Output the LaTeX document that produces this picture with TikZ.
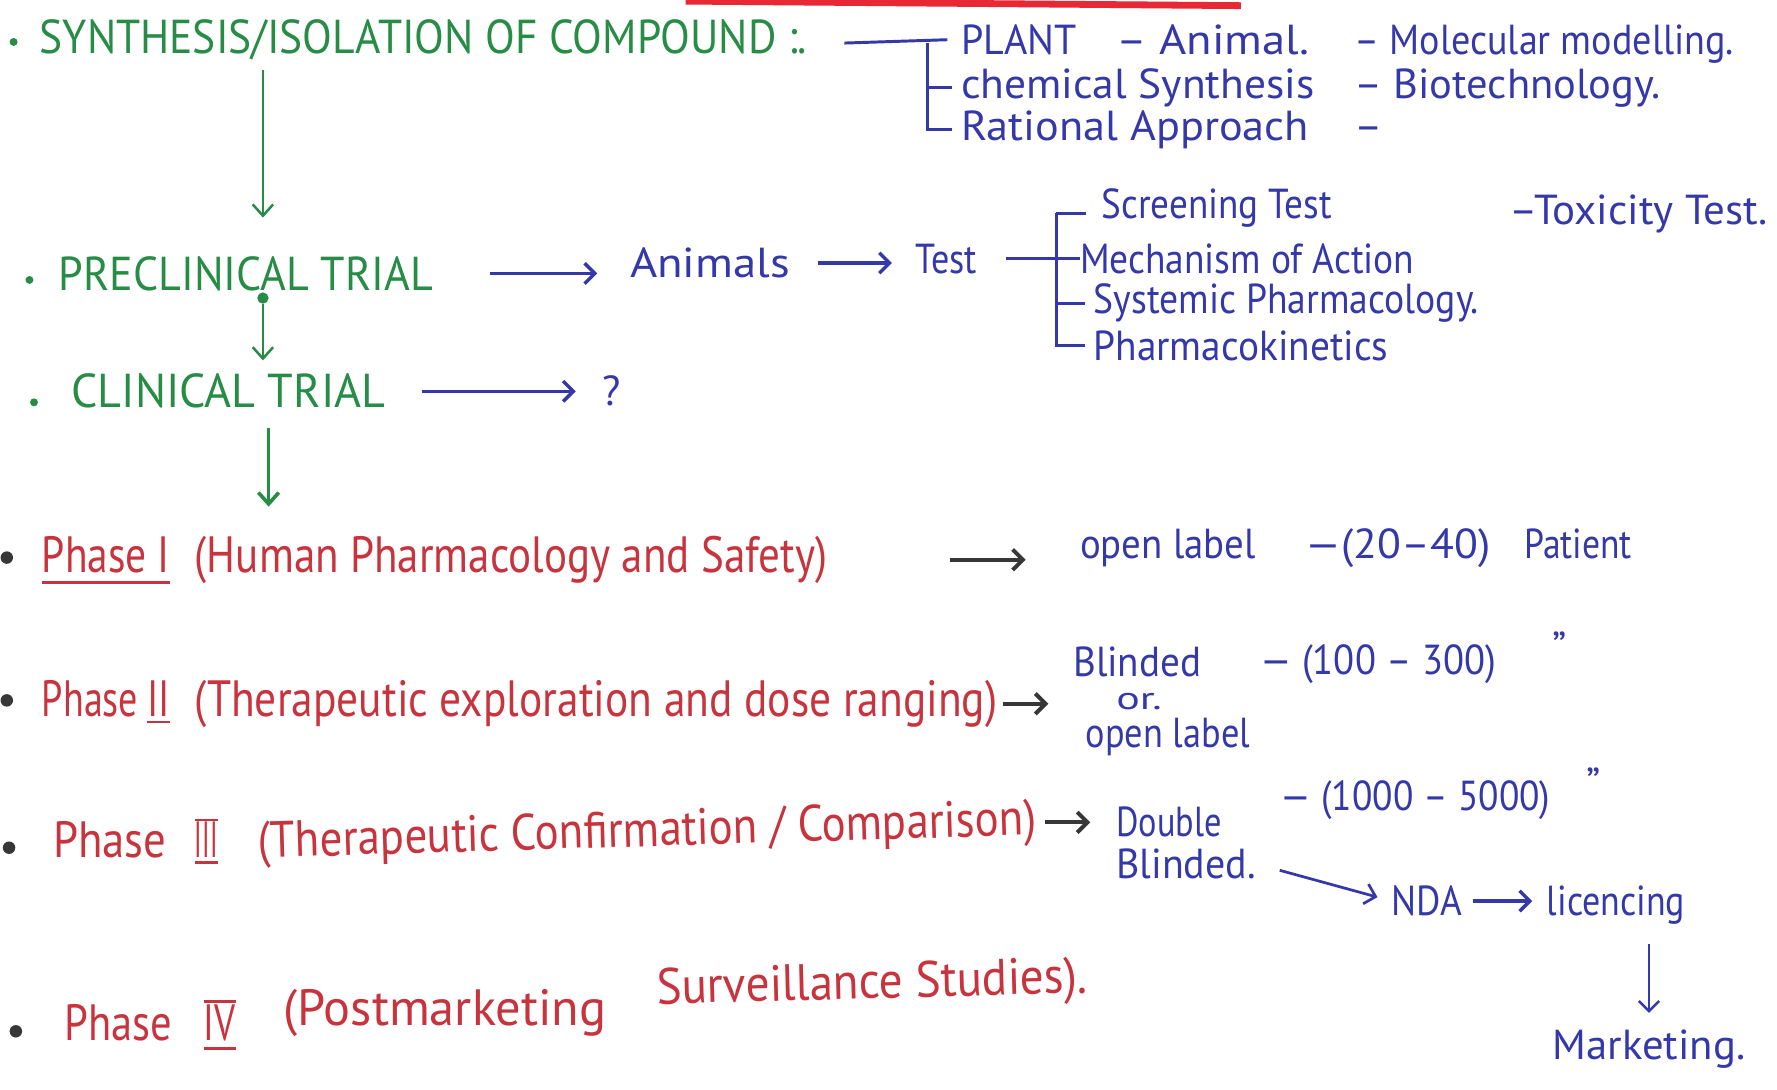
\documentclass[tikz,border=0pt]{standalone}
\usepackage{fontspec}
\setmainfont{PT Sans}
\usetikzlibrary{arrows.meta,calc}
\definecolor{inkgreen}{RGB}{38,140,70}
\definecolor{inkblue}{RGB}{52,56,168}
\definecolor{inkred}{RGB}{200,52,62}
\definecolor{inkgray}{RGB}{55,55,55}
\definecolor{topred}{RGB}{232,40,52}
% set a text to a given width, keeping its height
\newcommand{\fitw}[2]{\resizebox{#1}{\height}{#2}}
\begin{document}
\begin{tikzpicture}[x=1pt,y=-1pt,
  every node/.style={inner sep=0pt, outer sep=0pt, anchor=base west},
  gtxt/.style={text=inkgreen, font=\fontsize{42}{44}\selectfont},
  btxt/.style={text=inkblue, font=\fontsize{37}{40}\selectfont},
  rtxt/.style={text=inkred, font=\fontsize{45}{48}\selectfont},
  gdot/.style={circle, fill=inkgreen, minimum size=7pt, anchor=center},
  kdot/.style={circle, fill=inkgray, minimum size=11pt, anchor=center},
  garrow/.style={draw=inkgreen, line width=2.2pt, -{Straight Barb[length=10pt,width=18pt]}},
  barrow/.style={draw=inkblue, line width=3pt, -{Straight Barb[length=9pt,width=18pt]}},
  karrow/.style={draw=inkgray, line width=3.5pt, -{Straight Barb[length=9pt,width=18pt]}},
  bline/.style={draw=inkblue, line width=2.6pt},
  rbar/.style={draw=inkred, line width=2.4pt},
]
\fill[white] (0,0) rectangle (1568,961);
\useasboundingbox (0,0) rectangle (1568,961);

% red stroke along the top edge
\draw[topred, line width=6pt] (605,1) -- (1095,5);

% ---- green main chain ----
\node[gdot] (d1) at (12,37) {};
\node[gtxt] (syn) at (35,47) {\fitw{677pt}{SYNTHESIS/ISOLATION OF COMPOUND :.}};
\node[gdot] (d2) at (26,247) {};
\node[gtxt] (pre) at (52,256) {\fitw{330pt}{PRECLINICAL TRIAL}};
\node[gdot] (d3) at (30,355) {};
\node[gtxt] (cli) at (63,360) {\fitw{277pt}{CLINICAL TRIAL}};

\coordinate (g1a) at (232,62);
\coordinate (g1b) at (232,192);
\draw[garrow] (g1a) -- (g1b);
\node[gdot, minimum size=10pt] (gj) at (232,263) {};
\coordinate (g2b) at (232,318);
\draw[garrow] (gj) -- (g2b);
\coordinate (g3a) at (237,378);
\coordinate (g3b) at (237,447);
\draw[garrow, line width=3.2pt] (g3a) -- (g3b);

% ---- sources of compounds ----
\node[btxt] (plant) at (848,48) {\fitw{102pt}{PLANT}};
\node[btxt] (animal) at (985,48) {\fitw{170pt}{– Animal.}};
\node[btxt] (mol) at (1195,48) {\fitw{335pt}{– Molecular modelling.}};
\node[btxt] (chem) at (848,87) {\fitw{312pt}{chemical Synthesis}};
\node[btxt] (bio) at (1195,87) {\fitw{270pt}{– Biotechnology.}};
\node[btxt] (rat) at (848,124) {\fitw{307pt}{Rational Approach}};
\node[btxt] (ratd) at (1195,124) {\fitw{25pt}{–}};

\coordinate (k1) at (745,38);
\coordinate (b1) at (818,38);
\draw[bline] (k1) -- ([xshift=-12pt]plant.west);
\draw[bline] (b1) |- ([xshift=-8pt]chem.west);
\draw[bline] (b1) |- ([xshift=-8pt]rat.west);

% ---- preclinical tests ----
\node[btxt] (animals) at (556,245) {\fitw{141pt}{Animals}};
\node[btxt] (test) at (808,241) {\fitw{54pt}{Test}};
\node[btxt] (scr) at (972,193) {\fitw{203pt}{Screening Test}};
\node[btxt] (mech) at (953,241) {\fitw{295pt}{Mechanism of Action}};
\node[btxt] (sys) at (965,277) {\fitw{340pt}{Systemic Pharmacology.}};
\node[btxt] (pk) at (965,318) {\fitw{260pt}{Pharmacokinetics}};
\node[btxt] (tox) at (1332,198) {\fitw{228pt}{–Toxicity Test.}};

\draw[barrow, shorten <=50pt, shorten >=29pt] (pre.east) -- (pre.east -| animals.west);
\draw[barrow, shorten <=25pt, shorten >=21pt] (animals.east) -- (animals.east -| test.west);

\coordinate (b2) at (932,188);
\draw[bline, shorten <=26pt] (test.east) -- (test.east -| b2);
\draw[bline] (b2) -- ([xshift=-14pt]scr.west |- b2);
\draw[bline] (b2) |- (mech.west);
\draw[bline] (b2) |- ([xshift=-8pt]sys.west);
\draw[bline] (b2) |- ([xshift=-8pt]pk.west);

% ---- clinical trial ----
\node[btxt] (q) at (532,358) {?};
\draw[barrow, shorten <=32pt, shorten >=24pt] (cli.east) -- (cli.east -| q.west);

% ---- Phase I ----
\node[kdot] (r1) at (6,492) {};
\node[rtxt] (p1) at (37,505) {\fitw{113pt}{Phase I}};
\draw[rbar] ([yshift=-9pt]p1.base west) -- ([yshift=-9pt]p1.base east);
\node[rtxt] (p1b) at (172,505) {\fitw{558pt}{(Human Pharmacology and Safety)}};
\node[btxt] (ol1) at (953,493) {\fitw{155pt}{open label}};
\node[btxt] (n1) at (1152,493) {\fitw{163pt}{—(20–40)}};
\node[btxt] (pat) at (1345,493) {\fitw{95pt}{Patient}};
\draw[karrow, shorten <=108pt, shorten >=48pt] (p1b.east) -- (p1b.east -| ol1.west);

% ---- Phase II ----
\node[kdot] (r2) at (6,618) {};
\node[rtxt] (p2) at (37,632) {\fitw{85pt}{Phase}};
\node[rtxt] (p2n) at (130,632) {\fitw{20pt}{II}};
\draw[rbar] ([yshift=-5pt]p2n.base west) -- ([yshift=-5pt]p2n.base east);
\node[rtxt] (p2b) at (172,632) {\fitw{708pt}{(Therapeutic exploration and dose ranging)}};
\node[btxt] (bl) at (947,597) {\fitw{113pt}{Blinded}};
\node[btxt, font=\fontsize{28}{30}\selectfont] (or) at (985,626) {\fitw{40pt}{or.}};
\node[btxt] (ol2) at (958,660) {\fitw{145pt}{open label}};
\node[btxt] (n2) at (1112,595) {\fitw{208pt}{— (100 – 300)}};
\node[btxt] (dt2) at (1370,584) {”};
\draw[karrow, shorten <=5pt, shorten >=22pt] (p2b.east) -- (p2b.east -| bl.west);

% ---- Phase III ----
\node[kdot] (r3) at (8,748) {};
\node[rtxt] (p3) at (47,757) {\fitw{100pt}{Phase}};
\node[rtxt] (p3n) at (172,757) {\fitw{20pt}{III}};
\draw[rbar] ([yshift=2pt]p3n.north west) -- ([yshift=2pt]p3n.north east);
\draw[rbar] ([yshift=-4pt]p3n.base west) -- ([yshift=-4pt]p3n.base east);
\node[rtxt, rotate=1.7] (p3b) at (228,757) {\fitw{687pt}{(Therapeutic Confirmation / Comparison)}};
\node[btxt] (dbl) at (985,738) {\fitw{93pt}{Double}};
\node[btxt] (bld) at (985,775) {\fitw{123pt}{Blinded.}};
\node[btxt] (n3) at (1130,715) {\fitw{238pt}{— (1000 – 5000)}};
\node[btxt] (dt3) at (1400,704) {”};
\draw[karrow, shorten <=8pt, shorten >=23pt] (p3b.east) -- (p3b.east -| dbl.west);

\node[btxt] (nda) at (1228,808) {\fitw{62pt}{NDA}};
\node[btxt] (lic) at (1365,808) {\fitw{122pt}{licencing}};
\node[btxt] (mkt) at (1370,935) {\fitw{170pt}{Marketing.}};
\draw[barrow, line width=2.4pt, shorten <=22pt, shorten >=13pt] (bld.east) -- (nda.west);
\draw[barrow, shorten <=10pt, shorten >=13pt] (nda.east) -- (nda.east -| lic.west);
\draw[barrow, line width=2.2pt, shorten <=17pt, shorten >=15pt] (lic.south -| mkt.north) -- (mkt.north);

% ---- Phase IV ----
\node[kdot] (r4) at (14,910) {};
\node[rtxt] (p4) at (57,918) {\fitw{95pt}{Phase}};
\node[rtxt] (p4n) at (180,918) {\fitw{28pt}{IV}};
\draw[rbar] ([yshift=3pt]p4n.north west) -- ([yshift=3pt]p4n.north east);
\draw[rbar] ([yshift=-7pt]p4n.base west) -- ([yshift=-7pt]p4n.base east);
\node[rtxt] (p4b) at (250,905) {\fitw{285pt}{(Postmarketing}};
\node[rtxt, rotate=1.5] (p4c) at (580,886) {\fitw{380pt}{Surveillance Studies).}};
\end{tikzpicture}
\end{document}
